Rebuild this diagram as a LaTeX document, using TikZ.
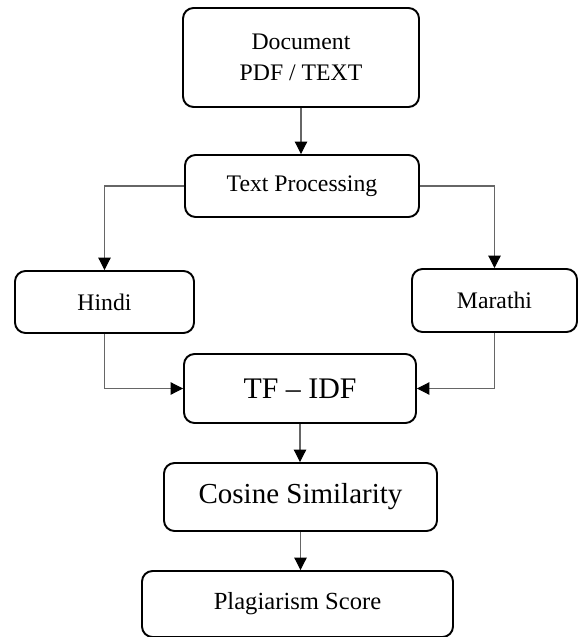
\documentclass[tikz,border=0pt]{standalone}
\usepackage{fontspec}
\setmainfont{Liberation Serif}
\usetikzlibrary{arrows.meta}

\begin{document}
\begin{tikzpicture}[
  box/.style={draw,line width=1.1pt,rounded corners=6pt,inner sep=0pt,align=center,
    font=\fontsize{13.5}{18}\selectfont},
  link/.style={black!60,line width=0.6pt,-{Triangle[length=7pt,width=7pt,color=black]}}]
\useasboundingbox (0.000,0.000) rectangle (11.580,-12.740);
\node[box,minimum width=4.720cm,minimum height=1.980cm] (doc) at (6.020,-1.150) {Document\\PDF / TEXT};
\node[box,minimum width=4.680cm,minimum height=1.240cm] (txt) at (6.040,-3.720) {Text Processing};
\node[box,minimum width=3.580cm,minimum height=1.240cm] (hindi) at (2.090,-6.040) {Hindi};
\node[box,minimum width=3.300cm,minimum height=1.260cm] (marathi) at (9.890,-6.010) {Marathi};
\node[box,minimum width=4.640cm,minimum height=1.380cm,font=\fontsize{17}{20}\selectfont] (tfidf) at (6.000,-7.770) {TF -- IDF};
\node[box,minimum width=5.460cm,minimum height=1.360cm,font=\fontsize{16.5}{20}\selectfont] (cosine) at (6.010,-9.940) {Cosine Similarity};
\node[box,minimum width=6.220cm,minimum height=1.320cm,font=\fontsize{14}{18}\selectfont] (score) at (5.950,-12.080) {Plagiarism Score};
\draw[link] (doc.south) -- (doc.south |- txt.north);
\draw[link] (txt.west) -| (hindi.north);
\draw[link] (txt.east) -| (marathi.north);
\draw[link] (hindi.south) |- (tfidf.west);
\draw[link] (marathi.south) |- (tfidf.east);
\draw[link] (tfidf.south) -- (tfidf.south |- cosine.north);
\draw[link] (cosine.south) -- (cosine.south |- score.north);
\end{tikzpicture}
\end{document}
